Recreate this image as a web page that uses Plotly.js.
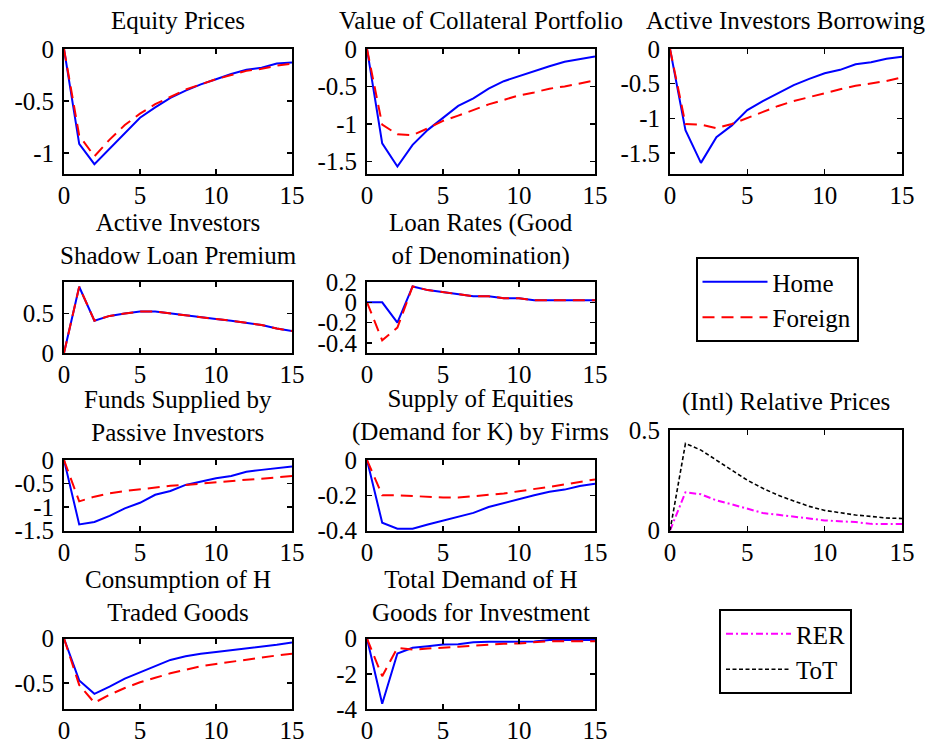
<!DOCTYPE html>
<html><head><meta charset="utf-8">
<script src="https://cdn.plot.ly/plotly-3.0.1.min.js"></script>
<style>html,body{margin:0;padding:0;background:#fff}#chart{width:936px;height:744px}</style>
</head><body><div id="chart"></div>
<script>
// ---------- data ----------
const periods = [0,1,2,3,4,5,6,7,8,9,10,11,12,13,14,15];
const xTickVals = [0,5,10,15];
const xTickText = ['0','5','10','15'];

const panelTitles = [
  'Equity Prices',
  'Value of Collateral Portfolio',
  'Active Investors Borrowing',
  'Active Investors<br>Shadow Loan Premium',
  'Loan Rates (Good<br>of Denomination)',
  'Funds Supplied by<br>Passive Investors',
  'Supply of Equities<br>(Demand for K) by Firms',
  '(Intl) Relative Prices',
  'Consumption of H<br>Traded Goods',
  'Total Demand of H<br>Goods for Investment'
];

const equityHome      = [0,-0.91,-1.105,-0.96,-0.81,-0.66,-0.56,-0.47,-0.40,-0.34,-0.29,-0.24,-0.20,-0.18,-0.14,-0.13];
const equityForeign   = [0,-0.83,-1.03,-0.87,-0.73,-0.62,-0.53,-0.46,-0.39,-0.34,-0.29,-0.25,-0.21,-0.19,-0.16,-0.14];
const collatHome      = [0,-1.26,-1.57,-1.28,-1.08,-0.92,-0.76,-0.66,-0.53,-0.43,-0.36,-0.29,-0.23,-0.17,-0.13,-0.10];
const collatForeign   = [0,-1.01,-1.14,-1.15,-1.06,-0.96,-0.89,-0.81,-0.74,-0.68,-0.62,-0.58,-0.53,-0.50,-0.46,-0.42];
const borrowHome      = [0,-1.17,-1.64,-1.27,-1.10,-0.88,-0.75,-0.63,-0.52,-0.43,-0.35,-0.30,-0.22,-0.19,-0.14,-0.11];
const borrowForeign   = [0,-1.08,-1.09,-1.14,-1.08,-0.99,-0.90,-0.82,-0.75,-0.69,-0.63,-0.58,-0.53,-0.50,-0.46,-0.41];
const premiumHome     = [0,0.84,0.41,0.47,0.50,0.525,0.525,0.50,0.475,0.45,0.43,0.41,0.38,0.355,0.31,0.28];
const premiumForeign  = [0,0.84,0.41,0.47,0.50,0.525,0.525,0.50,0.475,0.45,0.43,0.41,0.38,0.355,0.31,0.28];
const loanHome        = [0,0,-0.20,0.156,0.12,0.10,0.08,0.06,0.06,0.04,0.04,0.02,0.02,0.02,0.02,0.02];
const loanForeign     = [0,-0.375,-0.25,0.156,0.12,0.10,0.08,0.06,0.06,0.04,0.04,0.02,0.02,0.02,0.02,0.02];
const fundsHome       = [0,-1.37,-1.32,-1.19,-1.03,-0.91,-0.74,-0.66,-0.53,-0.46,-0.39,-0.34,-0.25,-0.21,-0.18,-0.14];
const fundsForeign    = [0,-0.88,-0.78,-0.71,-0.66,-0.62,-0.58,-0.55,-0.53,-0.50,-0.47,-0.45,-0.42,-0.40,-0.375,-0.34];
const eqSupplyHome    = [0,-0.356,-0.39,-0.39,-0.366,-0.343,-0.32,-0.30,-0.267,-0.244,-0.22,-0.20,-0.18,-0.168,-0.147,-0.135];
const eqSupplyForeign = [0,-0.20,-0.20,-0.204,-0.21,-0.213,-0.213,-0.206,-0.20,-0.19,-0.177,-0.166,-0.152,-0.139,-0.124,-0.11];
const rer             = [0,0.19,0.18,0.15,0.13,0.108,0.087,0.078,0.07,0.06,0.05,0.045,0.042,0.033,0.032,0.032];
const tot             = [0,0.433,0.40,0.35,0.30,0.25,0.21,0.175,0.147,0.12,0.10,0.087,0.077,0.07,0.062,0.06];
const consHome        = [0,-0.47,-0.62,-0.54,-0.45,-0.38,-0.31,-0.24,-0.20,-0.17,-0.15,-0.13,-0.115,-0.09,-0.07,-0.045];
const consForeign     = [0,-0.52,-0.72,-0.63,-0.555,-0.49,-0.44,-0.39,-0.35,-0.31,-0.285,-0.26,-0.24,-0.215,-0.19,-0.17];
const investHome      = [0,-3.7,-0.85,-0.53,-0.44,-0.34,-0.32,-0.21,-0.19,-0.19,-0.19,-0.17,-0.08,-0.08,-0.08,-0.08];
const investForeign   = [0,-2.14,-0.53,-0.63,-0.57,-0.53,-0.47,-0.40,-0.34,-0.30,-0.28,-0.21,-0.15,-0.15,-0.15,-0.15];

const seriesNames = ['Home','Foreign','RER','ToT'];

// y tick values / labels
const ticksEquity  = [-1,-0.5,0],         ticksEquityText  = ['-1','-0.5','0'];
const ticks15      = [-1.5,-1,-0.5,0],    ticks15Text      = ['-1.5','-1','-0.5','0'];
const ticksPremium = [0,0.5],             ticksPremiumText = ['0','0.5'];
const ticksLoan    = [-0.4,-0.2,0,0.2],   ticksLoanText    = ['-0.4','-0.2','0','0.2'];
const ticksEqSup   = [-0.4,-0.2,0],       ticksEqSupText   = ['-0.4','-0.2','0'];
const ticksRel     = [0,0.5],             ticksRelText     = ['0','0.5'];
const ticksCons    = [-0.5,0],            ticksConsText    = ['-0.5','0'];
const ticksInvest  = [-4,-2,0],           ticksInvestText  = ['-4','-2','0'];

// ---------- layout geometry (pixels) ----------
const W = 936, H = 744;
const colX = [[64,292],[367,595],[670,902]];
const FONT = '"Liberation Serif"';

const panels = [
  {col:0, top:49,  bot:174,   yr:[-1.2,0],   tv:ticksEquity,  tt:ticksEquityText,  a:equityHome,   b:equityForeign,  title:0, tc:21},
  {col:1, top:49,  bot:174,   yr:[-1.67,0],  tv:ticks15,      tt:ticks15Text,      a:collatHome,   b:collatForeign,  title:1, tc:21},
  {col:2, top:49,  bot:174,   yr:[-1.8,0],   tv:ticks15,      tt:ticks15Text,      a:borrowHome,   b:borrowForeign,  title:2, tc:21},
  {col:0, top:282, bot:353,   yr:[0,0.9],    tv:ticksPremium, tt:ticksPremiumText, a:premiumHome,  b:premiumForeign, title:3, tc:239},
  {col:1, top:282, bot:353,   yr:[-0.5,0.2], tv:ticksLoan,    tt:ticksLoanText,    a:loanHome,     b:loanForeign,    title:4, tc:239},
  {col:0, top:460, bot:530.5, yr:[-1.5,0],   tv:ticks15,      tt:ticks15Text,      a:fundsHome,    b:fundsForeign,   title:5, tc:416},
  {col:1, top:460, bot:530.5, yr:[-0.4,0],   tv:ticksEqSup,   tt:ticksEqSupText,   a:eqSupplyHome, b:eqSupplyForeign,title:6, tc:416},
  {col:2, top:430, bot:530.5, yr:[0,0.5],    tv:ticksRel,     tt:ticksRelText,     a:rer,          b:tot,            title:7, tc:402, rel:true},
  {col:0, top:638.5, bot:709, yr:[-0.79,0],  tv:ticksCons,    tt:ticksConsText,    a:consHome,     b:consForeign,    title:8, tc:596},
  {col:1, top:638.5, bot:709, yr:[-4,0],     tv:ticksInvest,  tt:ticksInvestText,  a:investHome,   b:investForeign,  title:9, tc:596}
];

const traces = [];
const legendCommon = {
  xanchor: 'center', yanchor: 'middle',
  bordercolor: '#000', borderwidth: 2, bgcolor: '#fff',
  font: {family: FONT, size: 25, color: '#000'}, traceorder: 'normal', itemwidth: 65
};
const layout = {
  width: W, height: H,
  margin: {l:0, r:0, t:0, b:0},
  paper_bgcolor: '#fff', plot_bgcolor: '#fff',
  font: {family: FONT, size: 25, color: '#000'},
  showlegend: true,
  annotations: [],
  legend: Object.assign({x: 777/W, y: 1-299.5/H}, legendCommon),
  legend2: Object.assign({x: 785.5/W, y: 1-651.5/H}, legendCommon)
};

const axisCommon = {
  ticks: 'inside', ticklen: 5, tickwidth: 1.5, tickcolor: '#000',
  showline: true, linecolor: '#000', linewidth: 2, mirror: 'ticks',
  showgrid: false, zeroline: false, fixedrange: true,
  tickfont: {family: FONT, size: 25, color: '#000'}, tickmode: 'array'
};

panels.forEach((p, i) => {
  const n = i + 1;
  const xa = n === 1 ? 'x' : 'x' + n;
  const ya = n === 1 ? 'y' : 'y' + n;
  const cx = colX[p.col];
  layout[n === 1 ? 'xaxis' : 'xaxis' + n] = Object.assign({}, axisCommon, {
    domain: [cx[0]/W, cx[1]/W], range: [0,15], anchor: ya,
    tickvals: xTickVals, ticktext: xTickText, ticklabelstandoff: -2
  });
  layout[n === 1 ? 'yaxis' : 'yaxis' + n] = Object.assign({}, axisCommon, {
    domain: [1 - p.bot/H, 1 - p.top/H], range: p.yr, anchor: xa,
    tickvals: p.tv, ticktext: p.tt, ticklabelstandoff: 3
  });
  if (p.rel) {
    traces.push({x: periods, y: p.a, xaxis: xa, yaxis: ya, mode: 'lines', name: seriesNames[2],
      legend: 'legend2', showlegend: true,
      line: {color: '#ff00ff', width: 2, dash: '7px,3px,2px,3px'}});
    traces.push({x: periods, y: p.b, xaxis: xa, yaxis: ya, mode: 'lines', name: seriesNames[3],
      legend: 'legend2', showlegend: true,
      line: {color: '#000000', width: 1.6, dash: '4px,2.5px'}});
  } else {
    traces.push({x: periods, y: p.a, xaxis: xa, yaxis: ya, mode: 'lines', name: seriesNames[0],
      showlegend: i === 0, line: {color: '#0000ff', width: 2}});
    traces.push({x: periods, y: p.b, xaxis: xa, yaxis: ya, mode: 'lines', name: seriesNames[1],
      showlegend: i === 0, line: {color: '#ff0000', width: 2, dash: '12px,7px'}});
  }
  layout.annotations.push({
    xref: 'paper', yref: 'paper', x: (cx[0]+cx[1])/2/W, y: 1 - p.tc/H,
    xanchor: 'center', yanchor: 'middle', showarrow: false,
    text: panelTitles[p.title], font: {family: FONT, size: 25, color: '#000'}
  });
});

Plotly.newPlot('chart', traces, layout, {staticPlot: true, displayModeBar: false});
</script>
</body></html>
